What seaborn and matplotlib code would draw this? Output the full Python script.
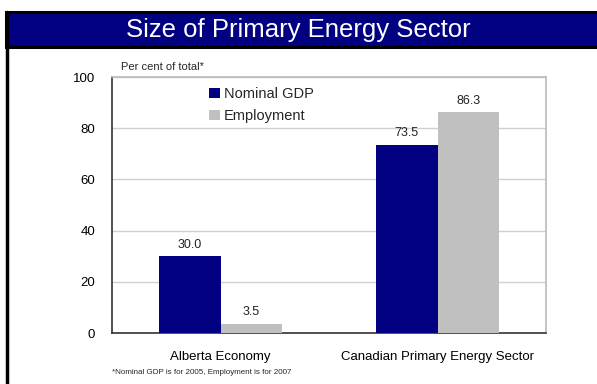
import matplotlib
matplotlib.use("Agg")
import matplotlib.pyplot as plt
from matplotlib.patches import Rectangle
from matplotlib.lines import Line2D
import seaborn as sns
import pandas as pd

categories = ["Alberta Economy", "Canadian Primary Energy Sector"]
series = ["Nominal GDP", "Employment"]
nominal_gdp = [30.0, 73.5]
employment = [3.5, 86.3]
y_ticks = [0, 20, 40, 60, 80, 100]

df = pd.DataFrame({
    "category": categories * 2,
    "series": [series[0]] * 2 + [series[1]] * 2,
    "value": nominal_gdp + employment,
})

sns.set_theme(style="white")
plt.rcParams["font.family"] = ["Liberation Sans", "DejaVu Sans"]

fig = plt.figure(figsize=(5.97, 3.84), dpi=100)
fig.patch.set_facecolor("white")

# header band
fig.patches.append(Rectangle((6 / 597, 1 - 47 / 384), 1.0, 35 / 384,
                             transform=fig.transFigure, facecolor="#000080",
                             edgecolor="black", linewidth=2.2, zorder=1))
fig.lines.append(Line2D([7 / 597, 7 / 597], [0, 1 - 12 / 384],
                        transform=fig.transFigure, color="black", linewidth=2.5))
fig.text(298 / 597, 1 - 29.5 / 384, "Size of Primary Energy Sector", color="white",
         fontsize=18.5, ha="center", va="center")

ax = fig.add_axes([112 / 597, 1 - 333 / 384, 434 / 597, 256 / 384])
palette = {"Nominal GDP": "#000080", "Employment": "#C0C0C0"}
sns.barplot(data=df, x="category", y="value", hue="series", hue_order=series,
            order=categories, palette=palette, width=0.57, saturation=1,
            linewidth=0, ax=ax, zorder=3)

for container in ax.containers:
    ax.bar_label(container, fmt="%.1f", padding=4, fontsize=9, color="#222222")

ax.set_ylim(0, 100)
ax.set_xlim(-0.5, 1.5)
ax.set_yticks(y_ticks)
ax.yaxis.grid(True, color="#D0D0D0", linewidth=1.0, zorder=0)
ax.set_axisbelow(True)
ax.tick_params(axis="y", length=0, pad=12, labelsize=9.5, labelcolor="black")
ax.tick_params(axis="x", length=0, pad=13, labelsize=9.5, labelcolor="black")
ax.set_xlabel("")
ax.set_ylabel("")

for side in ["left", "bottom"]:
    ax.spines[side].set_color("#333333")
    ax.spines[side].set_linewidth(1.2)
for side in ["top", "right"]:
    ax.spines[side].set_color("#BBBBBB")
    ax.spines[side].set_linewidth(1.2)

leg = ax.legend(loc="upper left", bbox_to_anchor=(0.2, 1.0), frameon=False,
                fontsize=10.5, handlelength=0.75, handleheight=0.75,
                handletextpad=0.25, labelspacing=0.55, borderaxespad=0.3)
for h in leg.legend_handles:
    h.set_edgecolor("none")

fig.text(121 / 597, 1 - 67 / 384, "Per cent of total*", fontsize=8, ha="left",
         va="center")
fig.text(112 / 597, 1 - 373 / 384,
         "*Nominal GDP is for 2005, Employment is for 2007", fontsize=5.8,
         ha="left", va="center")

fig.savefig("out.png", dpi=100)
